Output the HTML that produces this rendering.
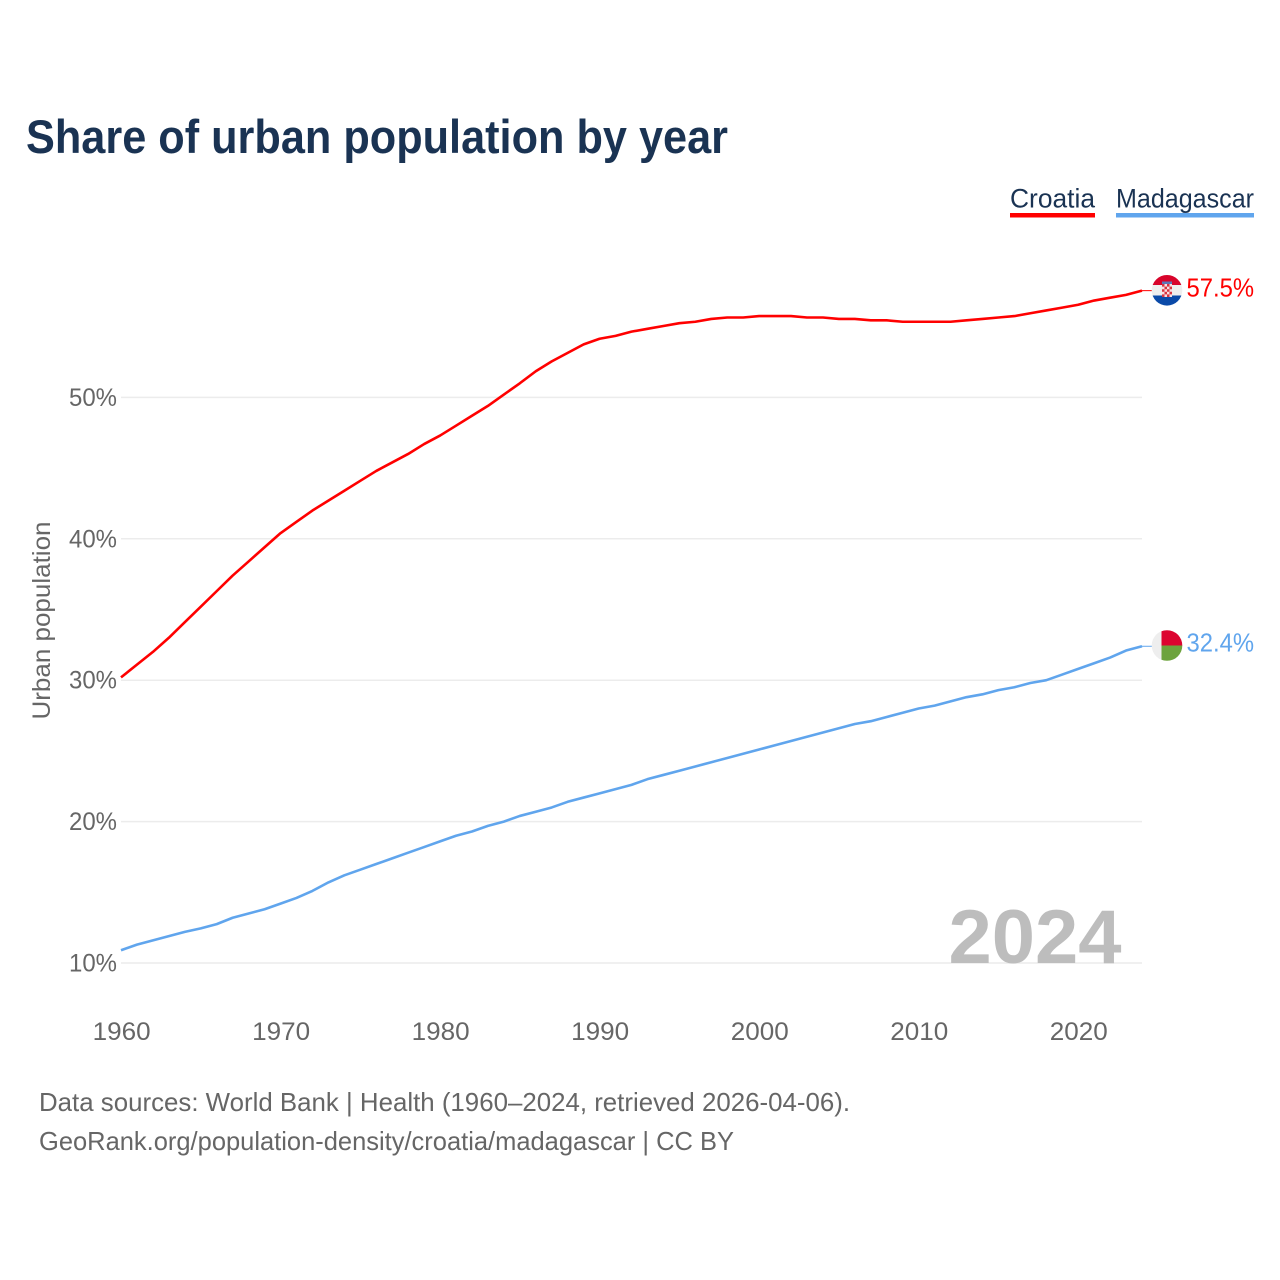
<!DOCTYPE html>
<html lang="en">
<head>
<meta charset="utf-8">
<title>Share of urban population by year</title>
<style>
html,body{margin:0;padding:0;background:#fff}
svg{display:block}
text{font-family:"Liberation Sans",sans-serif}
</style>
</head>
<body>
<svg id="chart" xmlns="http://www.w3.org/2000/svg" width="1280" height="1280" viewBox="0 0 1280 1280">
<rect width="1280" height="1280" fill="#fff"/>
<text x="26" y="153" font-size="47" font-weight="bold" fill="#1a3353" textLength="702" lengthAdjust="spacingAndGlyphs">Share of urban population by year</text>
<g>
<text x="1010" y="207.500" font-size="26.500" fill="#1a3353" textLength="85" lengthAdjust="spacingAndGlyphs">Croatia</text>
<rect x="1010" y="213" width="85" height="4.500" fill="#ff0000"/>
</g>
<g>
<text x="1116" y="207.500" font-size="26.500" fill="#1a3353" textLength="138" lengthAdjust="spacingAndGlyphs">Madagascar</text>
<rect x="1116" y="213" width="138" height="4.500" fill="#60a5ed"/>
</g>
<g id="grid"></g>
<g id="yticks"></g>
<g id="xticks"></g>
<text transform="translate(50,620.500) rotate(-90)" text-anchor="middle" font-size="25" fill="#666" textLength="198" lengthAdjust="spacingAndGlyphs">Urban population</text>
<text x="948.500" y="963" font-size="76" font-weight="bold" fill="#bdbdbd" textLength="173" lengthAdjust="spacingAndGlyphs">2024</text>
<g id="series"></g>
<defs>
<clipPath id="flag-clip-hr"><circle cx="1167" cy="290.300" r="15.300"/></clipPath>
<clipPath id="flag-clip-mg"><circle cx="1167" cy="645.500" r="15.300"/></clipPath>
</defs>
<g id="flag-croatia" clip-path="url(#flag-clip-hr)">
<rect x="1151" y="275" width="32" height="10" fill="#d8042b"/>
<rect x="1151" y="285" width="32" height="10.500" fill="#eeeeee"/>
<rect x="1151" y="295.500" width="32" height="11" fill="#0a4aa8"/>
<rect x="1162" y="284" width="10" height="13" fill="#f8dfe3"/>
<path d="M1162 284h2.500v2.600h-2.500zM1167 284h2.500v2.600h-2.500zM1164.500 286.600h2.500v2.600h-2.500zM1169.500 286.600h2.500v2.600h-2.500zM1162 289.200h2.500v2.600h-2.500zM1167 289.200h2.500v2.600h-2.500zM1164.500 291.800h2.500v2.600h-2.500zM1169.500 291.800h2.500v2.600h-2.500zM1162 294.400h2.500v2.600h-2.500zM1167 294.400h2.500v2.600h-2.500z" fill="#d8343f"/>
<rect x="1162" y="281.500" width="10" height="2.500" fill="#5a78b8"/>
</g>
<g id="flag-madagascar" clip-path="url(#flag-clip-mg)">
<rect x="1151" y="630" width="11" height="31" fill="#eeeeee"/>
<rect x="1161.500" y="630" width="21" height="15.500" fill="#dc0430"/>
<rect x="1161.500" y="645.500" width="21" height="16" fill="#6da33d"/>
</g>
<text x="1186.500" y="296.500" font-size="26" fill="#ff0000" textLength="67.500" lengthAdjust="spacingAndGlyphs">57.5%</text>
<text x="1186.500" y="651.500" font-size="26" fill="#60a5ed" textLength="67.500" lengthAdjust="spacingAndGlyphs">32.4%</text>
<text x="39" y="1111" font-size="26" fill="#666" textLength="811" lengthAdjust="spacingAndGlyphs">Data sources: World Bank | Health (1960–2024, retrieved 2026-04-06).</text>
<text x="39" y="1150" font-size="26" fill="#666" textLength="695" lengthAdjust="spacingAndGlyphs">GeoRank.org/population-density/croatia/madagascar | CC BY</text>
</svg>
<script>
const startYear = 1960;
const croatia = [30.2,31.1,32.0,33.0,34.1,35.2,36.3,37.4,38.4,39.4,40.4,41.2,42.0,42.7,43.4,44.1,44.8,45.4,46.0,46.7,47.3,48.0,48.7,49.4,50.2,51.0,51.85,52.55,53.15,53.75,54.15,54.35,54.65,54.85,55.05,55.25,55.35,55.55,55.65,55.65,55.75,55.75,55.75,55.65,55.65,55.55,55.55,55.45,55.45,55.35,55.35,55.35,55.35,55.45,55.55,55.65,55.75,55.95,56.15,56.35,56.55,56.85,57.05,57.25,57.55];
const madagascar = [10.9,11.3,11.6,11.9,12.2,12.45,12.75,13.2,13.5,13.8,14.2,14.6,15.1,15.7,16.2,16.6,17.0,17.4,17.8,18.2,18.6,19.0,19.3,19.7,20.0,20.4,20.7,21.0,21.4,21.7,22.0,22.3,22.6,23.0,23.3,23.6,23.9,24.2,24.5,24.8,25.1,25.4,25.7,26.0,26.3,26.6,26.9,27.1,27.4,27.7,28.0,28.2,28.5,28.8,29.0,29.3,29.5,29.8,30.0,30.4,30.8,31.2,31.6,32.1,32.4];
const yTickValues = [10,20,30,40,50];
const xTickValues = [1960,1970,1980,1990,2000,2010,2020];

const SVG_NS = 'http://www.w3.org/2000/svg';
function xScale(year){ return 121 + (year - 1960) * (1142 - 121) / 64; }
function yScale(v){ return 963 - (v - 10) * 14.14; }
function make(tag, attrs, parent){
  const el = document.createElementNS(SVG_NS, tag);
  for (const k in attrs) el.setAttribute(k, attrs[k]);
  parent.appendChild(el);
  return el;
}
const grid = document.getElementById('grid');
const yticks = document.getElementById('yticks');
const xticks = document.getElementById('xticks');
const seriesGroup = document.getElementById('series');

yTickValues.forEach(function(v){
  const line = make('line', {x1:121, x2:1142, y1:yScale(v), y2:yScale(v), stroke:'#ececec', 'stroke-width':1.5}, grid);
  
  
  const label = make('text', {x:117, y:yScale(v)+8.5, 'text-anchor':'end', 'font-size':25, fill:'#666', textLength:48, lengthAdjust:'spacingAndGlyphs'}, yticks);
  
  
  label.textContent = v + '%';
});
xTickValues.forEach(function(y){
  const label = make('text', {x:xScale(y)+0.6, y:1040, 'text-anchor':'middle', 'font-size':25, fill:'#666', textLength:58, lengthAdjust:'spacingAndGlyphs'}, xticks);
  
  
  label.textContent = y;
});
function drawSeries(values, color, name){
  const d = values.map(function(v, i){
    return (i ? 'L' : 'M') + xScale(startYear + i).toFixed(2) + ' ' + yScale(v).toFixed(2);
  }).join(' ');
  const path = make('path', {d:d, fill:'none', stroke:color, 'stroke-width':2.6, 'stroke-linejoin':'round'}, seriesGroup);
  
  
  const lastY = yScale(values[values.length - 1]);
  const conn = make('line', {x1:1142, x2:1152, y1:lastY, y2:lastY, stroke:color, 'stroke-width':1}, seriesGroup);
  
  
}
drawSeries(croatia, '#ff0000', 'line-croatia');
drawSeries(madagascar, '#60a5ed', 'line-madagascar');
</script>
</body>
</html>
